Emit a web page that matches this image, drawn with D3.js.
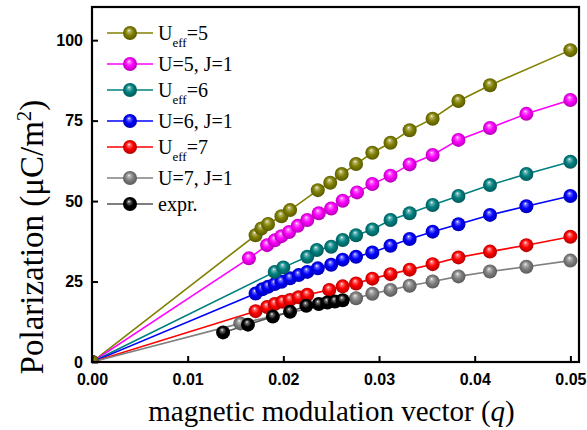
<!DOCTYPE html>
<html>
<head>
<meta charset="utf-8">
<script src="https://cdnjs.cloudflare.com/ajax/libs/d3/7.8.5/d3.min.js"></script>
<style>
  body { margin: 0; background: #fff; }
  svg { display: block; }
</style>
</head>
<body>
<div id="chart"></div>
<script>
// data (q, polarization)
var seriesNames = ["Ueff5", "U5J1", "Ueff6", "U6J1", "Ueff7", "U7J1", "expr"];

var qUeff5 = [0, 0.0171, 0.0177, 0.0184, 0.0198, 0.0207, 0.0236, 0.0249, 0.0261, 0.0276, 0.0293, 0.0312, 0.0332, 0.0356, 0.0383, 0.0416, 0.05];
var pUeff5 = [0, 39.4, 41.5, 42.9, 45.3, 47.2, 53.4, 55.7, 58.4, 61.5, 65.0, 68.1, 72.0, 75.6, 81.1, 86.0, 96.9];

var qU5J1 = [0, 0.0164, 0.0183, 0.0191, 0.0198, 0.0206, 0.0215, 0.0225, 0.0237, 0.0250, 0.0262, 0.0277, 0.0293, 0.0312, 0.0332, 0.0356, 0.0383, 0.0416, 0.0454, 0.05];
var pU5J1 = [0, 32.2, 36.3, 37.8, 39.1, 40.4, 42.3, 44.1, 46.2, 47.7, 50.1, 52.7, 55.3, 57.9, 61.4, 64.3, 69.0, 72.7, 77.1, 81.4];

var qUeff6 = [0, 0.0191, 0.0200, 0.0225, 0.0235, 0.0250, 0.0262, 0.0276, 0.0293, 0.0312, 0.0332, 0.0356, 0.0383, 0.0416, 0.0454, 0.05];
var pUeff6 = [0, 28.0, 29.4, 32.7, 34.8, 35.8, 37.9, 39.4, 41.2, 44.1, 46.2, 48.8, 51.6, 55.0, 58.4, 62.2];

var qU6J1 = [0, 0.0171, 0.0178, 0.0184, 0.0191, 0.0198, 0.0207, 0.0216, 0.0225, 0.0236, 0.0250, 0.0262, 0.0276, 0.0293, 0.0312, 0.0332, 0.0356, 0.0383, 0.0416, 0.0454, 0.05];
var pU6J1 = [0, 21.3, 22.6, 23.4, 24.2, 24.9, 26.0, 27.0, 28.0, 29.1, 30.2, 31.8, 32.7, 34.0, 36.1, 38.2, 40.5, 42.8, 45.7, 48.4, 51.6];

var qUeff7 = [0, 0.0171, 0.0183, 0.0191, 0.0199, 0.0207, 0.0216, 0.0225, 0.0248, 0.0262, 0.0276, 0.0293, 0.0312, 0.0332, 0.0356, 0.0383, 0.0416, 0.0454, 0.05];
var pUeff7 = [0, 15.8, 17.1, 18.0, 18.7, 19.3, 20.1, 20.9, 22.4, 23.5, 24.4, 25.9, 27.3, 28.7, 30.4, 32.5, 34.3, 36.3, 38.9];

var qU7J1 = [0, 0.0155, 0.0276, 0.0293, 0.0312, 0.0332, 0.0356, 0.0383, 0.0416, 0.0454, 0.05];
var pU7J1 = [0, 12.0, 19.8, 21.2, 22.4, 23.7, 25.0, 26.6, 28.1, 29.6, 31.5];

var qExpr = [0.0137, 0.0163, 0.0189, 0.0207, 0.0224, 0.0237, 0.0246, 0.0254, 0.0262];
var pExpr = [9.2, 11.6, 14.1, 15.6, 17.5, 18.0, 18.5, 18.8, 19.2];

var xTicks = [0, 0.01, 0.02, 0.03, 0.04, 0.05];
var yTicks = [0, 25, 50, 75, 100];

// legend: [main, subscript, rest]
var legendLabels = [["U", "eff", "=5"], ["U=5, J=1", "", ""], ["U", "eff", "=6"], ["U=6, J=1", "", ""],
                    ["U", "eff", "=7"], ["U=7, J=1", "", ""], ["expr.", "", ""]];
var colors = ["#808000", "#ff00ff", "#008080", "#0000ff", "#ff0000", "#808080", "#000000"];
var lineColors = ["#808000", "#ff00ff", "#008080", "#0000ff", "#ff0000", "#808080", "#555555"];

var qs = [qUeff5, qU5J1, qUeff6, qU6J1, qUeff7, qU7J1, qExpr];
var ps = [pUeff5, pU5J1, pUeff6, pU6J1, pUeff7, pU7J1, pExpr];

var series = seriesNames.map(function(name, i) {
  return {
    name: name, color: colors[i], lineColor: lineColors[i],
    values: qs[i].map(function(q, j) { return {q: q, p: ps[i][j]}; })
  };
});

var W = 587, H = 430;
var plotL = 92, plotR = 579, plotT = 7, plotB = 362;

var svg = d3.select("#chart").append("svg")
    .attr("width", W)
    .attr("height", H);

var x = d3.scaleLinear().domain([0, 0.0509]).range([plotL, plotR]);
var y = d3.scaleLinear().domain([0, 110.3]).range([plotB, plotT]);

// shiny ball gradients
var defs = svg.append("defs");
series.forEach(function(s, i) {
  var c = d3.color(s.color);
  var g = defs.append("radialGradient")
      .attr("id", "ball" + i)
      .attr("cx", "50%").attr("cy", "50%").attr("r", "55%")
      .attr("fx", "42%").attr("fy", "30%");
  g.append("stop").attr("offset", "0%").attr("stop-color", "#ffffff");
  g.append("stop").attr("offset", "16%").attr("stop-color", d3.interpolateRgb(s.color, "#fff")(0.45));
  g.append("stop").attr("offset", "50%").attr("stop-color", s.color);
  g.append("stop").attr("offset", "100%").attr("stop-color", i == 6 ? "#000" : c.darker(1.2).toString());
});
defs.append("clipPath").attr("id", "plotClip")
  .append("rect")
    .attr("x", plotL).attr("y", plotT)
    .attr("width", plotR - plotL).attr("height", plotB - plotT);

var plot = svg.append("g").attr("clip-path", "url(#plotClip)");

var line = d3.line()
    .x(function(d) { return x(d.q); })
    .y(function(d) { return y(d.p); });

// lines first
plot.selectAll(".series-line")
  .data(series)
  .enter()
  .append("path")
    .attr("class", "series-line")
    .attr("d", function(d) { return line(d.values); })
    .attr("fill", "none")
    .attr("stroke", function(d) { return d.lineColor; })
    .attr("stroke-width", 1.6);

// balls: gray, red, blue, teal, magenta, olive, then expr on top
var drawOrder = [5, 4, 3, 2, 1, 0, 6];
drawOrder.forEach(function(i) {
  plot.append("g")
    .selectAll("circle")
    .data(series[i].values)
    .enter()
    .append("circle")
      .attr("cx", function(d) { return x(d.q); })
      .attr("cy", function(d) { return y(d.p); })
      .attr("r", 7)
      .attr("fill", "url(#ball" + i + ")");
});

// axes, ticks pointing inward
var xAxis = svg.append("g")
    .attr("transform", "translate(0," + plotB + ")")
    .call(d3.axisBottom(x).tickValues(xTicks).tickFormat(d3.format(".2f")).tickSize(-6).tickPadding(12));
var yAxis = svg.append("g")
    .attr("transform", "translate(" + plotL + ",0)")
    .call(d3.axisLeft(y).tickValues(yTicks).tickFormat(d3.format("d")).tickSize(-6).tickPadding(9));

[xAxis, yAxis].forEach(function(a) {
  a.select(".domain").remove();
  a.selectAll(".tick line").attr("stroke", "#000").attr("stroke-width", 2);
  a.selectAll(".tick text")
    .attr("fill", "#000")
    .style("font-family", "'Liberation Sans', Arial, sans-serif")
    .style("font-weight", "bold")
    .style("font-size", "16px");
});

// frame
svg.append("rect")
    .attr("x", plotL).attr("y", plotT)
    .attr("width", plotR - plotL).attr("height", plotB - plotT)
    .attr("fill", "none")
    .attr("stroke", "#000")
    .attr("stroke-width", 2.2);

// axis titles
var xt = svg.append("text")
    .attr("x", (148 + 515) / 2)
    .attr("y", 421)
    .attr("text-anchor", "middle")
    .style("font-family", "'Liberation Serif', 'Times New Roman', serif")
    .style("font-size", "29px");
xt.append("tspan").text("magnetic modulation vector (");
xt.append("tspan").style("font-style", "italic").text("q");
xt.append("tspan").text(")");

var yt = svg.append("text")
    .attr("transform", "translate(43,237) rotate(-90)")
    .attr("text-anchor", "middle")
    .style("font-family", "'Liberation Serif', 'Times New Roman', serif")
    .style("font-size", "33px");
yt.append("tspan").text("Polarization (\u03bcC/m");
yt.append("tspan").attr("dy", -12).style("font-size", "21px").text("2");
yt.append("tspan").attr("dy", 12).text(")");

// legend
var legend = svg.append("g");
legendLabels.forEach(function(lab, i) {
  var ly = 33 + i * 28.5 + (i % 2 == 1 ? 2.5 : 0);
  var row = legend.append("g").attr("transform", "translate(0," + ly + ")");
  row.append("line")
      .attr("x1", 107).attr("x2", 153)
      .attr("y1", 0).attr("y2", 0)
      .attr("stroke", series[i].lineColor)
      .attr("stroke-width", 1.6);
  row.append("circle")
      .attr("cx", 130).attr("cy", 0)
      .attr("r", 7)
      .attr("fill", "url(#ball" + i + ")");
  var t = row.append("text")
      .attr("x", 158)
      .attr("y", 7)
      .style("font-family", "'Liberation Serif', 'Times New Roman', serif")
      .style("font-size", "20px");
  t.append("tspan").text(lab[0]);
  if (lab[1]) {
    t.append("tspan").attr("dy", 7).style("font-size", "13px").text(lab[1]);
    t.append("tspan").attr("dy", -7).text(lab[2]);
  }
});
</script>
</body>
</html>
